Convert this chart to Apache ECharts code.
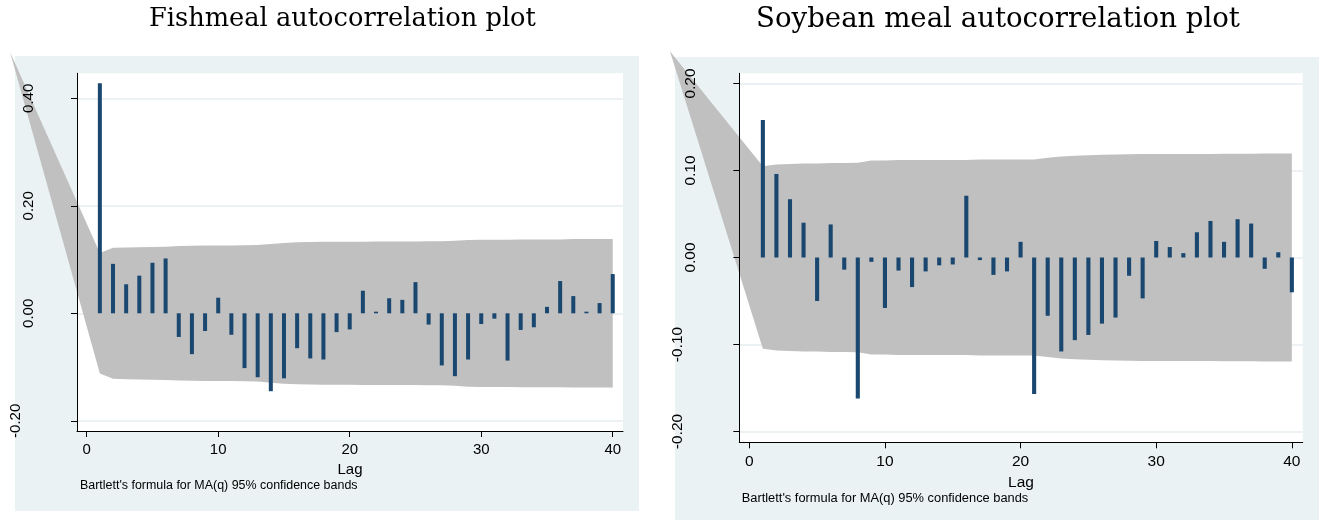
<!DOCTYPE html>
<html>
<head>
<meta charset="utf-8">
<script src="https://cdn.jsdelivr.net/npm/echarts@6/dist/echarts.min.js"></script>
<style>
  html, body { margin: 0; padding: 0; background: #ffffff; }
  #chart { width: 1322px; height: 520px; }
</style>
</head>
<body>
<div id="chart"></div>
<script>
// Lags 1..40
const lags = [1, 2, 3, 4, 5, 6, 7, 8, 9, 10, 11, 12, 13, 14, 15, 16, 17, 18, 19, 20,
              21, 22, 23, 24, 25, 26, 27, 28, 29, 30, 31, 32, 33, 34, 35, 36, 37, 38, 39, 40];

// Sample autocorrelations
const fishmealAcf = [0.428, 0.092, 0.054, 0.070, 0.094, 0.102, -0.044, -0.076, -0.033, 0.029,
                     -0.040, -0.102, -0.119, -0.145, -0.121, -0.065, -0.084, -0.086, -0.035, -0.030,
                     0.042, 0.003, 0.028, 0.025, 0.058, -0.021, -0.097, -0.117, -0.086, -0.020,
                     -0.010, -0.088, -0.031, -0.026, 0.012, 0.060, 0.032, 0.003, 0.019, 0.073];
const soybeanAcf = [0.158, 0.096, 0.067, 0.040, -0.050, 0.038, -0.014, -0.162, -0.005, -0.058,
                    -0.015, -0.034, -0.016, -0.009, -0.008, 0.071, -0.003, -0.020, -0.016, 0.018,
                    -0.157, -0.067, -0.108, -0.095, -0.089, -0.076, -0.069, -0.021, -0.047, 0.019,
                    0.012, 0.005, 0.029, 0.042, 0.018, 0.044, 0.039, -0.013, 0.006, -0.040];

// Bartlett 95% band half-widths per lag (band is +/- these)
const fishmealBand = [0.112, 0.122, 0.1225, 0.123, 0.1235, 0.124, 0.125, 0.1255, 0.126, 0.126,
                      0.126, 0.1265, 0.127, 0.129, 0.131, 0.132, 0.1325, 0.133, 0.133, 0.133,
                      0.1332, 0.1334, 0.1334, 0.1335, 0.1336, 0.1338, 0.134, 0.135, 0.1365, 0.137,
                      0.137, 0.137, 0.1375, 0.1375, 0.1375, 0.1375, 0.138, 0.138, 0.138, 0.138];
const soybeanBand = [0.105, 0.107, 0.1075, 0.108, 0.108, 0.1085, 0.1085, 0.109, 0.1115, 0.1115,
                     0.112, 0.112, 0.112, 0.112, 0.112, 0.112, 0.1125, 0.1125, 0.1125, 0.1125,
                     0.1125, 0.1145, 0.116, 0.117, 0.1175, 0.118, 0.1185, 0.1187, 0.119, 0.119,
                     0.119, 0.119, 0.119, 0.119, 0.1192, 0.1192, 0.1192, 0.1195, 0.1195, 0.1195];

// Apex of the band wedge (lag, value)
const fishmealBandTip = [-5.83, 0.486];
const soybeanBandTip = [-5.85, 0.237];

// Axis ticks
const lagTicks = [0, 10, 20, 30, 40];
const fishmealYTicks = [-0.2, 0, 0.2, 0.4];
const soybeanYTicks = [-0.2, -0.1, 0, 0.1, 0.2];

const BAR_COLOR = '#1a476f';
const BAND_COLOR = '#c0c0c0';
const PANEL_COLOR = '#eaf2f3';
const GRID_COLOR = '#e6eef0';
const SANS = '"Liberation Sans", Arial, sans-serif';
const SERIF = '"DejaVu Serif", Georgia, serif';

function yAxisDef(gi, range, ticks, fs, margin) {
  return {
    gridIndex: gi, type: 'value', min: range[0], max: range[1], z: 9,
    axisLine: { show: true, onZero: false, lineStyle: { color: '#000', width: 1 } },
    axisTick: { show: true, length: 6, customValues: ticks, lineStyle: { color: '#000', width: 1 } },
    axisLabel: {
      customValues: ticks, rotate: 90, margin: margin, color: '#000',
      fontFamily: SANS, fontSize: fs, lineHeight: 13,
      formatter: v => (v < 0 ? v.toFixed(2) + '\n' : v.toFixed(2))
    },
    splitLine: { show: false }
  };
}

function xAxisDef(gi, range, fs, margin, nameGap) {
  return {
    gridIndex: gi, type: 'value', min: range[0], max: range[1], z: 9,
    axisLine: { show: true, onZero: false, lineStyle: { color: '#000', width: 1 } },
    axisTick: { show: true, length: 6, customValues: lagTicks, lineStyle: { color: '#000', width: 1 } },
    axisLabel: { customValues: lagTicks, margin: margin, color: '#000', fontFamily: SANS, fontSize: fs },
    splitLine: { show: false },
    name: 'Lag', nameLocation: 'middle', nameGap: nameGap,
    nameTextStyle: { color: '#000', fontFamily: SANS, fontSize: fs }
  };
}

// Horizontal grid lines at the y ticks, kept beneath the band
function gridLineSeries(gi, ticks) {
  return {
    type: 'line', xAxisIndex: gi, yAxisIndex: gi, data: [], z: 1, silent: true,
    markLine: {
      z: 1, silent: true, symbol: ['none', 'none'], animation: false,
      label: { show: false },
      lineStyle: { color: GRID_COLOR, width: 1.5, type: 'solid' },
      emphasis: { disabled: true },
      data: ticks.map(v => ({ yAxis: v }))
    }
  };
}

// Confidence band polygon: apex, upper edge out to lag 40, lower edge back
function bandSeries(gi, tip, band) {
  return {
    type: 'custom', xAxisIndex: gi, yAxisIndex: gi, z: 6, silent: true, clip: false,
    data: [[0, 0]],
    renderItem: function (params, api) {
      const pts = [api.coord(tip)];
      for (let i = 0; i < lags.length; i++) pts.push(api.coord([lags[i], band[i]]));
      for (let i = lags.length - 1; i >= 0; i--) pts.push(api.coord([lags[i], -band[i]]));
      pts.push(api.coord(tip));
      return { type: 'polygon', shape: { points: pts }, style: { fill: BAND_COLOR } };
    }
  };
}

function barSeries(gi, values, w) {
  return {
    type: 'bar', xAxisIndex: gi, yAxisIndex: gi, z: 7, silent: true,
    barWidth: w,
    itemStyle: { color: BAR_COLOR },
    data: lags.map((l, i) => [l, values[i]])
  };
}

const chart = echarts.init(document.getElementById('chart'), null, { renderer: 'canvas' });

chart.setOption({
  animation: false,
  backgroundColor: '#ffffff',
  grid: [
    { left: 77, top: 73.3, width: 546, height: 357.7, show: true, backgroundColor: '#ffffff', borderWidth: 0 },
    { left: 739.3, top: 73.3, width: 563.4, height: 369, show: true, backgroundColor: '#ffffff', borderWidth: 0 }
  ],
  xAxis: [
    xAxisDef(0, [-0.738, 40.78], 15, 11, 26),
    xAxisDef(1, [-0.737, 40.8], 15.5, 11.3, 27)
  ],
  yAxis: [
    yAxisDef(0, [-0.219, 0.4465], fishmealYTicks, 15, 42),
    yAxisDef(1, [-0.2124, 0.2117], soybeanYTicks, 15.5, 42)
  ],
  graphic: [
    { type: 'rect', z: -10, silent: true, shape: { x: 15, y: 56, width: 624, height: 455 }, style: { fill: PANEL_COLOR } },
    { type: 'rect', z: -10, silent: true, shape: { x: 675, y: 57, width: 644, height: 463 }, style: { fill: PANEL_COLOR } },
    { type: 'text', z: 50, silent: true, x: 342.4, y: 19.5,
      style: { text: 'Fishmeal autocorrelation plot', fill: '#000', font: '25.7px ' + SERIF,
               align: 'center', verticalAlign: 'middle', textAlign: 'center', textVerticalAlign: 'middle' } },
    { type: 'text', z: 50, silent: true, x: 998, y: 19.5,
      style: { text: 'Soybean meal autocorrelation plot', fill: '#000', font: '27.6px ' + SERIF,
               align: 'center', verticalAlign: 'middle', textAlign: 'center', textVerticalAlign: 'middle' } },
    { type: 'text', z: 50, silent: true, x: 80, y: 486,
      style: { text: "Bartlett's formula for MA(q) 95% confidence bands", fill: '#000', font: '12.45px ' + SANS,
               align: 'left', verticalAlign: 'middle', textAlign: 'left', textVerticalAlign: 'middle' } },
    { type: 'text', z: 50, silent: true, x: 741.7, y: 498.8,
      style: { text: "Bartlett's formula for MA(q) 95% confidence bands", fill: '#000', font: '12.85px ' + SANS,
               align: 'left', verticalAlign: 'middle', textAlign: 'left', textVerticalAlign: 'middle' } }
  ],
  series: [
    gridLineSeries(0, fishmealYTicks),
    gridLineSeries(1, soybeanYTicks),
    bandSeries(0, fishmealBandTip, fishmealBand),
    bandSeries(1, soybeanBandTip, soybeanBand),
    barSeries(0, fishmealAcf, 4),
    barSeries(1, soybeanAcf, 4.1)
  ]
});
</script>
</body>
</html>
